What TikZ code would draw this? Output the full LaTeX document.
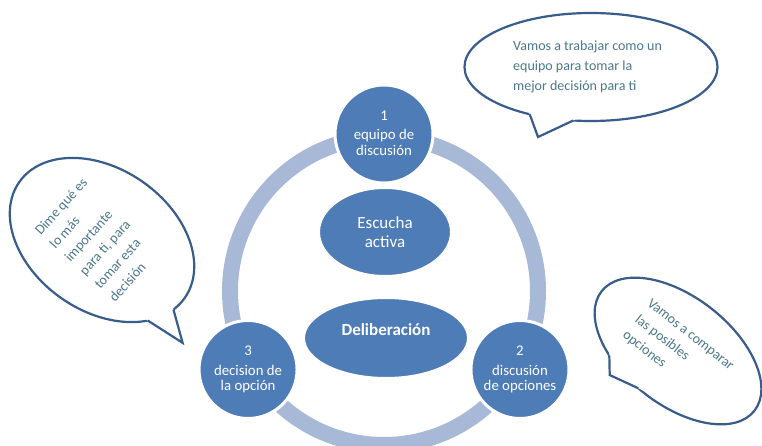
\documentclass[tikz,border=0pt]{standalone}
\usepackage{fontspec}
\setmainfont{Carlito}
\usepackage{tikz}
\usetikzlibrary{shapes.geometric,calc}
\definecolor{stageblue}{RGB}{77,124,182}
\definecolor{ringblue}{RGB}{167,185,214}
\definecolor{bubbleline}{RGB}{56,93,138}
\definecolor{bubbletxt}{RGB}{74,120,138}
\tikzset{stage/.style={circle, fill=stageblue, draw=white, line width=3pt, minimum size=98pt, inner sep=0pt, text=white, align=center, text depth=2pt, font=\fontsize{14.8}{15.5}\selectfont},
  core/.style={ellipse, fill=stageblue, draw=white, line width=2pt, inner sep=0pt, text=white, align=center, font=\fontsize{17}{19}\selectfont},
  bubble/.style={draw=bubbleline, line width=2.2pt, fill=white},
  bubbletext/.style={text=bubbletxt, align=left, inner sep=0pt, font=\fontsize{14}{20}\selectfont}}

\begin{document}
\begin{tikzpicture}[x=1pt, y=1pt]
      \useasboundingbox (0,0) rectangle (762,445);
      % ring and the three steps
      \coordinate (hub) at (384,154);
      \draw [ringblue, line width=16pt] (hub) circle [radius=154];
      \node [stage] (paso1) at ([shift={(90:157)}]hub) {1\\[4pt]equipo de\\discusión};
      \node [stage] (paso2) at ([shift={(-30:157)}]hub) {2\\[4pt]discusión\\de opciones};
      \node [stage] (paso3) at ([shift={(210:157)}]hub) {3\\[4pt]decision de\\la opción};
      \node [core, minimum width=132pt, minimum height=88pt] (escucha) at (385,213) {Escucha\\activa};
      \node [core, minimum width=164pt, minimum height=80pt] (delib) at (386,107) {};
      \node [text=white, font=\fontsize{17}{19}\selectfont\bfseries] (deliblabel) at ([yshift=8pt]delib.center) {Deliberación};

      % top bubble
      \begin{scope}[shift={(591,378)}]
        \coordinate (tb-a) at (-119:126.5 and 54);
        \coordinate (tb-b) at (-98:126.5 and 54);
        \coordinate (tb-tip) at (-53,-70);
        \filldraw [bubble] (0,0) ellipse [x radius=126.5, y radius=54];
        \fill [white] (tb-tip) -- ($(tb-tip)!1.2!(tb-a)$) -- ($(tb-tip)!1.2!(tb-b)$) -- cycle;
        \draw [bubble, fill=none] (tb-a) -- (tb-tip) -- (tb-b);
      \end{scope}
      \node [bubbletext, anchor=west] (tbtext) at (513,378.5) {Vamos a trabajar como un\\equipo para tomar la\\mejor decisión para ti};

      % left bubble
      \begin{scope}[shift={(102,205)}, rotate=-35]
        \coordinate (lb-a) at (-34:101 and 71);
        \coordinate (lb-b) at (-13:101 and 71);
        \coordinate (lb-tip) at (125,-38);
        \filldraw [bubble] (0,0) ellipse [x radius=101, y radius=71];
        \fill [white] (lb-tip) -- ($(lb-tip)!1.2!(lb-a)$) -- ($(lb-tip)!1.2!(lb-b)$) -- cycle;
        \draw [bubble, fill=none] (lb-a) -- (lb-tip) -- (lb-b);
      \end{scope}
      \node [bubbletext, rotate=48] (lbtext) at (98,205) {Dime qué es\\lo más\\importante\\para ti, para\\tomar esta\\decisión};

      % right bubble
      \begin{scope}[shift={(678,94)}, rotate=-38]
        \coordinate (rb-a) at (-122:97 and 54);
        \coordinate (rb-b) at (-95:97 and 54);
        \coordinate (rb-tip) at (-39,-61);
        \filldraw [bubble] (0,0) ellipse [x radius=97, y radius=54];
        \fill [white] (rb-tip) -- ($(rb-tip)!1.2!(rb-a)$) -- ($(rb-tip)!1.2!(rb-b)$) -- cycle;
        \draw [bubble, fill=none] (rb-a) -- (rb-tip) -- (rb-b);
      \end{scope}
      \node [bubbletext, rotate=-38] (rbtext) at (678,94) {Vamos a comparar\\las posibles\\opciones};
\end{tikzpicture}
\end{document}
